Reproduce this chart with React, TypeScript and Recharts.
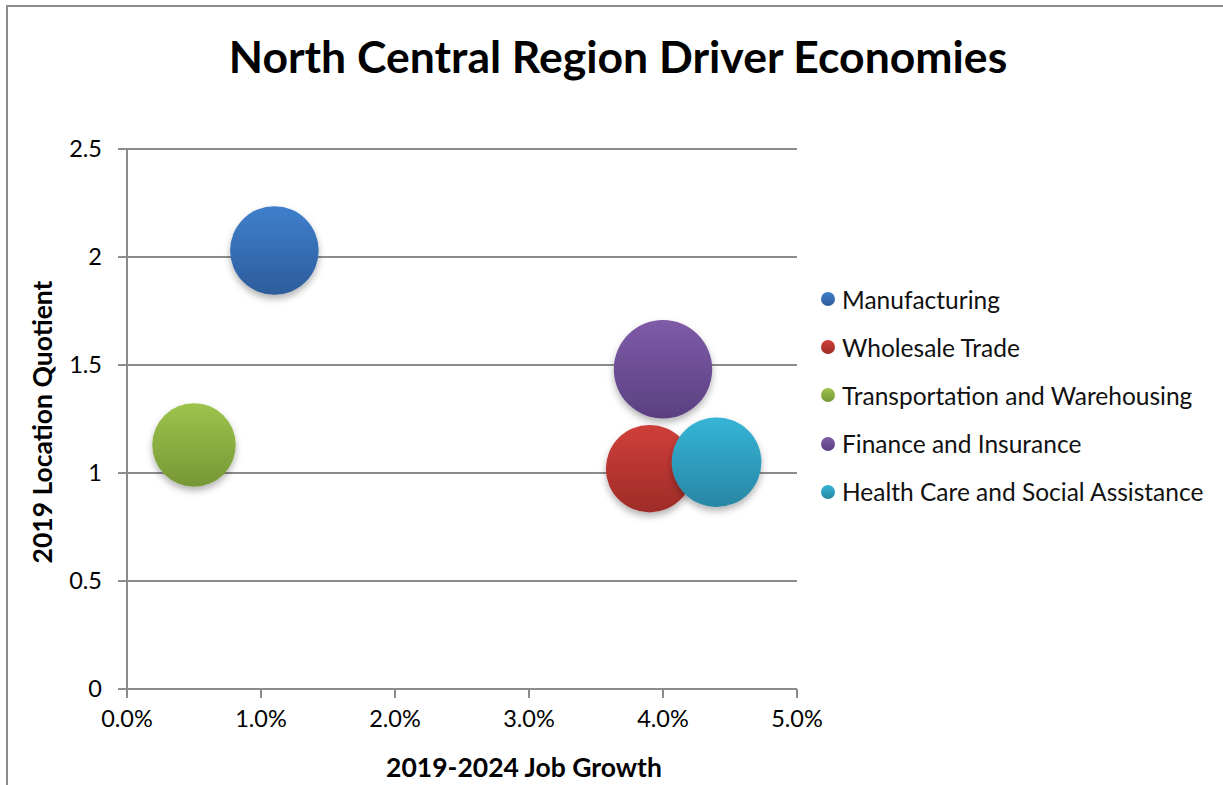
import { ScatterChart, Scatter, XAxis, YAxis, ZAxis, CartesianGrid, Legend, Label } from "recharts";

const categories = [
  "Manufacturing",
  "Wholesale Trade",
  "Transportation and Warehousing",
  "Finance and Insurance",
  "Health Care and Social Assistance",
];

// 2019-2024 job growth, in percent
const jobGrowth = [1.1, 3.9, 0.5, 4.0, 4.4];
// 2019 location quotient
const locationQuotient = [2.03, 1.02, 1.13, 1.48, 1.05];
// bubble size (relative employment)
const bubbleSize = [81, 79, 72, 100, 83];

const xTicks = [0, 1, 2, 3, 4, 5];
const yTicks = [0, 0.5, 1, 1.5, 2, 2.5];

const GRADIENTS: [string, string][] = [
  ["#3f7fcc", "#2d5c9b"],
  ["#d03f3a", "#9e2c28"],
  ["#9dc44c", "#769736"],
  ["#7f5ba8", "#5a4081"],
  ["#35b4d6", "#2887a4"],
];

const FONT = "Lato, 'DejaVu Sans', sans-serif";
const GRID = "#8c8c8c";

const series = categories.map((name, i) => ({
  name,
  data: [{ x: jobGrowth[i], y: locationQuotient[i], z: bubbleSize[i] }],
}));

const Bubble = (props: any) => {
  const { cx, cy, size, width, index, gradientId } = props;
  const r = size ? Math.sqrt(size / Math.PI) : width / 2;
  return (
    <circle
      key={index}
      cx={cx}
      cy={cy}
      r={r}
      fill={`url(#${gradientId})`}
      filter="url(#bubbleShadow)"
    />
  );
};

const LegendContent = () => (
  <div style={{ fontFamily: FONT, fontSize: 24.5, color: "#111" }}>
    {categories.map((name, i) => (
      <div
        key={name}
        style={{ height: 48.2, display: "flex", alignItems: "center", whiteSpace: "nowrap" }}
      >
        <span
          style={{
            display: "inline-block",
            width: 14,
            height: 14,
            borderRadius: 7,
            marginRight: 7,
            background: `linear-gradient(${GRADIENTS[i][0]}, ${GRADIENTS[i][1]})`,
          }}
        />
        {name}
      </div>
    ))}
  </div>
);

export default function App() {
  return (
    <div style={{ position: "absolute", left: 0, top: 0, width: 1223, height: 785, background: "#fff" }}>
      <div
        style={{
          position: "absolute",
          left: 6,
          top: 5,
          width: 1230,
          height: 800,
          borderLeft: `2px solid ${GRID}`,
          borderTop: `2px solid ${GRID}`,
        }}
      />
      <div
        style={{
          position: "absolute",
          left: 0,
          width: 1236,
          top: 29,
          textAlign: "center",
          fontFamily: FONT,
          fontWeight: 700,
          fontSize: 44.5,
          color: "#000",
        }}
      >
        North Central Region Driver Economies
      </div>
      <ScatterChart
        width={1223}
        height={785}
        margin={{ top: 149, right: 426, bottom: 56, left: 67 }}
        style={{ position: "absolute", left: 0, top: 0 }}
      >
        <defs>
          {GRADIENTS.map(([top, bottom], i) => (
            <linearGradient key={i} id={`bubble${i}`} x1="0" y1="0" x2="0" y2="1">
              <stop offset="0%" stopColor={top} />
              <stop offset="100%" stopColor={bottom} />
            </linearGradient>
          ))}
          <filter id="bubbleShadow" x="-30%" y="-30%" width="160%" height="170%">
            <feDropShadow dx="0" dy="4" stdDeviation="3.5" floodColor="#000" floodOpacity="0.3" />
          </filter>
        </defs>
        <CartesianGrid vertical={false} stroke={GRID} strokeWidth={2} />
        <XAxis
          type="number"
          dataKey="x"
          domain={[0, 5]}
          ticks={xTicks}
          height={40}
          tickFormatter={(v: number) => `${v.toFixed(1)}%`}
          tick={{ fill: "#000", fontSize: 23.5, fontFamily: FONT }}
          tickSize={9}
          tickMargin={12}
          axisLine={{ stroke: GRID, strokeWidth: 2 }}
          tickLine={{ stroke: GRID, strokeWidth: 2 }}
        >
          <Label
            value="2019-2024 Job Growth"
            position="bottom"
            dx={62}
            offset={29}
            style={{ fill: "#000", fontSize: 26.5, fontWeight: 700, fontFamily: FONT }}
          />
        </XAxis>
        <YAxis
          type="number"
          dataKey="y"
          domain={[0, 2.5]}
          ticks={yTicks}
          width={60}
          tick={{ fill: "#000", fontSize: 23.5, fontFamily: FONT }}
          tickSize={9}
          tickMargin={16}
          axisLine={{ stroke: GRID, strokeWidth: 2 }}
          tickLine={{ stroke: GRID, strokeWidth: 2 }}
        >
          <Label
            content={(p: any) => {
              const vb = p.viewBox;
              const x = vb.x - 25;
              const y = vb.y + vb.height / 2 + 3;
              return (
                <text
                  x={x}
                  y={y}
                  transform={`rotate(-90, ${x}, ${y})`}
                  textAnchor="middle"
                  dominantBaseline="central"
                  style={{ fill: "#000", fontSize: 26.5, fontWeight: 700, fontFamily: FONT }}
                >
                  2019 Location Quotient
                </text>
              );
            }}
          />
        </YAxis>
        <ZAxis type="number" dataKey="z" domain={[0, 100]} range={[0, 7605]} />
        <Legend
          layout="vertical"
          align="center"
          verticalAlign="middle"
          content={LegendContent}
          wrapperStyle={{ left: 821, top: 275, width: 400 }}
        />
        {series.map((s, i) => (
          <Scatter
            key={s.name}
            name={s.name}
            data={s.data}
            fill={GRADIENTS[i][0]}
            isAnimationActive={false}
            shape={(props: any) => <Bubble {...props} gradientId={`bubble${i}`} />}
          />
        ))}
      </ScatterChart>
    </div>
  );
}
